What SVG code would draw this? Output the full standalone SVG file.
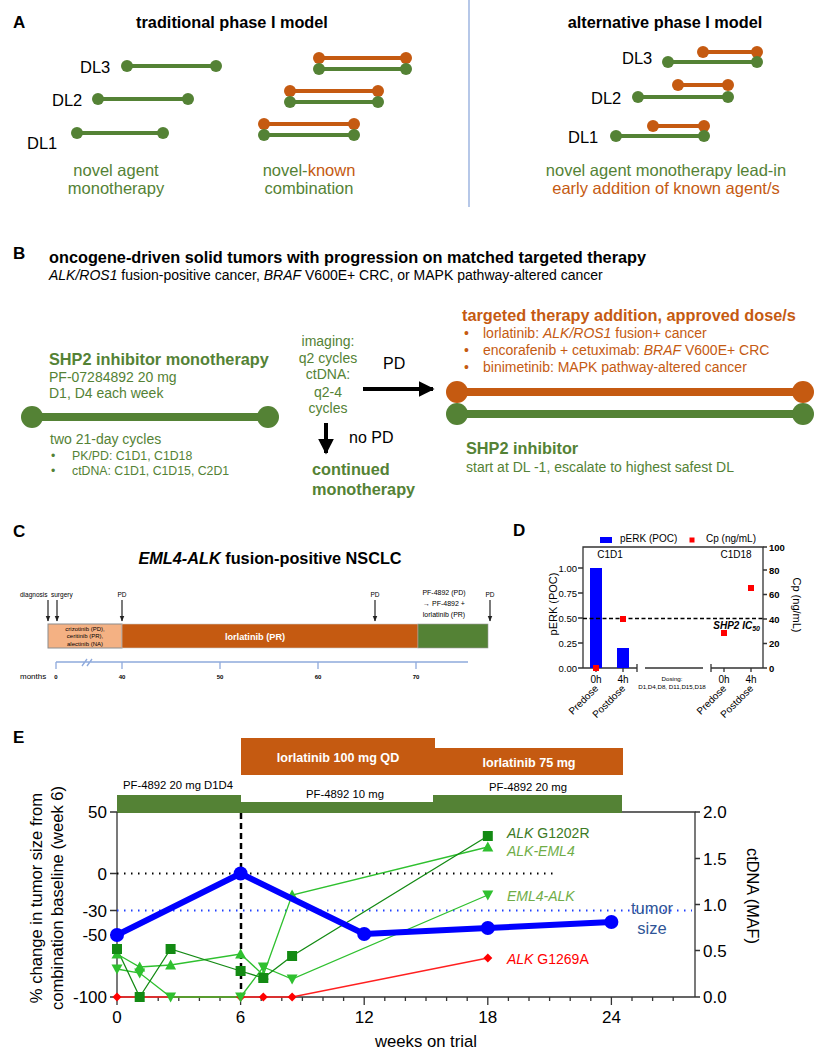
<svg xmlns="http://www.w3.org/2000/svg" width="814" height="1050" viewBox="0 0 814 1050">
<style>
text{font-family:"Liberation Sans",Arial,sans-serif;fill:#000}
.lbl{font-size:17px;font-weight:bold}
.ttl{font-size:16.3px;font-weight:bold}
text.g,.g{fill:#548235}
text.o,.o{fill:#c55a11}
.gs{stroke:#548235}
.os{stroke:#c55a11}
.ln4{stroke-width:4;fill:none}
.ln8{stroke-width:8;fill:none}
.t14{font-size:14px}
.t16{font-size:16.5px}
.it{font-style:italic}
.ax{stroke:#333;stroke-width:1.3;fill:none}
.cax{stroke:#8faadc;stroke-width:1.3;fill:none}
.dk{fill:#138a13}
.lt{fill:#2fc02f}
text.rd,.rd{fill:#ff0000}
</style>
<defs>
<marker id="ah" viewBox="0 0 10 10" refX="9" refY="5" markerWidth="4" markerHeight="4" orient="auto"><path d="M0,0 L10,5 L0,10 z" fill="#000"/></marker>
<marker id="ahs" viewBox="0 0 10 10" refX="9" refY="5" markerWidth="5" markerHeight="5" orient="auto"><path d="M0,1 L10,5 L0,9 z" fill="#222"/></marker>
<rect id="sq" x="-5" y="-5" width="10" height="10"/>
<polygon id="tu" points="0,-5.5 5.5,4.5 -5.5,4.5"/>
<polygon id="td" points="-5.5,-4.5 5.5,-4.5 0,5.5"/>
<polygon id="dm" points="0,-4.5 4.5,0 0,4.5 -4.5,0"/>
<rect id="rs" x="-3" y="-3" width="6" height="6"/>
</defs>

<!-- Panel A -->
<g id="panelA">
<text x="13" y="28" class="lbl">A</text>
<text x="232" y="28" class="ttl" text-anchor="middle">traditional phase I model</text>
<text x="665" y="28" class="ttl" text-anchor="middle">alternative phase I model</text>
<line x1="469" y1="0" x2="469" y2="207" stroke="#8faadc" stroke-width="1.3"/>
<g id="a-trad-mono">
<text x="80" y="73" class="t16">DL3</text>
<text x="52" y="106" class="t16">DL2</text>
<text x="27" y="149" class="t16">DL1</text>
<g class="gs ln4"><line x1="127" y1="66" x2="216" y2="66"/><line x1="98" y1="99" x2="188" y2="99"/><line x1="77" y1="133" x2="163" y2="133"/></g>
<g class="g"><circle cx="127" cy="66" r="6"/><circle cx="216" cy="66" r="6"/><circle cx="98" cy="99" r="6"/><circle cx="188" cy="99" r="6"/><circle cx="77" cy="133" r="6"/><circle cx="163" cy="133" r="6"/></g>
<text x="116" y="176" class="t16 g" text-anchor="middle" font-size="17">novel agent</text>
<text x="116" y="194" class="t16 g" text-anchor="middle">monotherapy</text>
</g>
<g id="a-trad-combo">
<g class="os ln4"><line x1="319" y1="58" x2="406" y2="58"/><line x1="290" y1="91" x2="378" y2="91"/><line x1="264" y1="124" x2="354" y2="124"/></g>
<g class="gs ln4"><line x1="319" y1="69" x2="406" y2="69"/><line x1="290" y1="102" x2="378" y2="102"/><line x1="264" y1="135" x2="354" y2="135"/></g>
<g class="o"><circle cx="319" cy="58" r="6"/><circle cx="406" cy="58" r="6"/><circle cx="290" cy="91" r="6"/><circle cx="378" cy="91" r="6"/><circle cx="264" cy="124" r="6"/><circle cx="354" cy="124" r="6"/></g>
<g class="g"><circle cx="319" cy="69" r="6"/><circle cx="406" cy="69" r="6"/><circle cx="290" cy="102" r="6"/><circle cx="378" cy="102" r="6"/><circle cx="264" cy="135" r="6"/><circle cx="354" cy="135" r="6"/></g>
<text x="309" y="176" class="t16 g" text-anchor="middle">novel-<tspan class="o">known</tspan></text>
<text x="309" y="194" class="t16 g" text-anchor="middle">combination</text>
</g>
<g id="a-alt">
<text x="622" y="64" class="t16">DL3</text>
<text x="591" y="104" class="t16">DL2</text>
<text x="568" y="143" class="t16">DL1</text>
<g class="os ln4"><line x1="703" y1="52" x2="757" y2="52"/><line x1="678" y1="85" x2="728" y2="85"/><line x1="653" y1="126" x2="704" y2="126"/></g>
<g class="gs ln4"><line x1="668" y1="62" x2="757" y2="62"/><line x1="638" y1="97" x2="728" y2="97"/><line x1="616" y1="136" x2="704" y2="136"/></g>
<g class="o"><circle cx="703" cy="52" r="6"/><circle cx="757" cy="52" r="6"/><circle cx="678" cy="85" r="6"/><circle cx="728" cy="85" r="6"/><circle cx="653" cy="126" r="6"/><circle cx="704" cy="126" r="6"/></g>
<g class="g"><circle cx="668" cy="62" r="6"/><circle cx="757" cy="62" r="6"/><circle cx="638" cy="97" r="6"/><circle cx="728" cy="97" r="6"/><circle cx="616" cy="136" r="6"/><circle cx="704" cy="136" r="6"/></g>
<text x="666" y="176" class="t16 g" text-anchor="middle">novel agent monotherapy lead-in</text>
<text x="666" y="194" class="t16 o" text-anchor="middle">early addition of known agent/s</text>
</g>
</g>

<!-- Panel B -->
<g id="panelB">
<text x="13" y="259" class="lbl">B</text>
<text x="49" y="263" class="ttl">oncogene-driven solid tumors with progression on matched targeted therapy</text>
<text x="49" y="280" class="t14"><tspan class="it">ALK/ROS1</tspan> fusion-positive cancer, <tspan class="it">BRAF</tspan> V600E+ CRC, or MAPK pathway-altered cancer</text>
<g id="b-mono">
<text x="49" y="365" class="ttl g">SHP2 inhibitor monotherapy</text>
<text x="49" y="382" class="t14 g">PF-07284892 20 mg</text>
<text x="49" y="398" class="t14 g">D1, D4 each week</text>
<line x1="32" y1="417" x2="268" y2="417" class="gs ln8"/>
<circle cx="32" cy="417" r="11" class="g"/><circle cx="268" cy="417" r="11" class="g"/>
<text x="50" y="444" class="t14 g">two 21-day cycles</text>
<text x="51" y="459.5" font-size="12.3" class="g">•</text>
<text x="72" y="459.5" font-size="12.3" class="g">PK/PD: C1D1, C1D18</text>
<text x="51" y="474.5" font-size="12.3" class="g">•</text>
<text x="72" y="474.5" font-size="12.3" class="g">ctDNA: C1D1, C1D15, C2D1</text>
</g>
<g id="b-monitor" text-anchor="middle">
<text x="328" y="346" class="t14 g">imaging:</text>
<text x="328" y="363" class="t14 g">q2 cycles</text>
<text x="328" y="379" class="t14 g">ctDNA:</text>
<text x="328" y="397" class="t14 g">q2-4</text>
<text x="328" y="413" class="t14 g">cycles</text>
</g>
<text x="383" y="369" font-size="16">PD</text>
<text x="349" y="443" font-size="16">no PD</text>
<g id="b-continued">
<text x="312" y="475" class="ttl g">continued</text>
<text x="312" y="495" class="ttl g">monotherapy</text>
</g>
<g id="b-combo">
<text x="462" y="321" class="ttl o">targeted therapy addition, approved dose/s</text>
<text x="464" y="338" class="t14 o">•</text><text x="483" y="338" class="t14 o">lorlatinib: <tspan class="it">ALK/ROS1</tspan> fusion+ cancer</text>
<text x="464" y="355" class="t14 o">•</text><text x="483" y="355" class="t14 o">encorafenib + cetuximab: <tspan class="it">BRAF</tspan> V600E+ CRC</text>
<text x="464" y="372" class="t14 o">•</text><text x="483" y="372" class="t14 o">binimetinib: MAPK pathway-altered cancer</text>
<line x1="457" y1="392" x2="803" y2="392" class="os ln8"/>
<circle cx="457" cy="392" r="11" class="o"/><circle cx="803" cy="392" r="11" class="o"/>
<line x1="457" y1="414" x2="803" y2="414" class="gs ln8"/>
<circle cx="457" cy="414" r="11" class="g"/><circle cx="803" cy="414" r="11" class="g"/>
<text x="466" y="454" class="ttl g">SHP2 inhibitor</text>
<text x="466" y="472" class="t14 g">start at DL -1, escalate to highest safest DL</text>
</g>
</g>

<!-- Connectors -->
<g id="connectors">
<line x1="363" y1="389" x2="433" y2="389" stroke="#000" stroke-width="4" marker-end="url(#ah)"/>
<line x1="326" y1="423" x2="326" y2="453" stroke="#000" stroke-width="4" marker-end="url(#ah)"/>
<g stroke="#222" stroke-width="1.2" marker-end="url(#ahs)">
<line x1="48" y1="600" x2="48" y2="621"/>
<line x1="57" y1="600" x2="57" y2="621"/>
<line x1="122" y1="600" x2="122" y2="621"/>
<line x1="375" y1="600" x2="375" y2="621"/>
<line x1="490" y1="600" x2="490" y2="621"/>
</g>
</g>

<!-- Panel C -->
<g id="panelC">
<text x="13" y="537" class="lbl">C</text>
<text x="270" y="564" class="ttl" text-anchor="middle"><tspan class="it">EML4-ALK</tspan> fusion-positive NSCLC</text>
<g font-size="6.5">
<text x="20" y="597">diagnosis</text>
<text x="51" y="597">surgery</text>
<text x="122" y="597" text-anchor="middle">PD</text>
<text x="375" y="597" text-anchor="middle">PD</text>
<text x="490" y="597" text-anchor="middle">PD</text>
</g>
<g font-size="7" text-anchor="middle">
<text x="444" y="595">PF-4892 (PD)</text>
<text x="444" y="606">→ PF-4892 +</text>
<text x="444" y="617">lorlatinib (PR)</text>
</g>
<rect x="48" y="624" width="74" height="24" fill="#f4b183" stroke="#8c8c8c" stroke-width="1"/>
<rect x="122" y="624" width="296" height="24" fill="#c55a11" stroke="#c9c9c9" stroke-width="0.6"/>
<rect x="418" y="624" width="70" height="24" fill="#548235" stroke="#9a9a9a" stroke-width="0.6"/>
<g font-size="6" text-anchor="middle">
<text x="85" y="630.5">crizotinib (PD),</text>
<text x="85" y="638">ceritinib (PR),</text>
<text x="85" y="645.5">alectinib (NA)</text>
</g>
<text x="255" y="639.5" font-size="9.2" font-weight="bold" text-anchor="middle" style="fill:#fff">lorlatinib (PR)</text>
<path d="M56,662 H468 M56,662 V669 M122,662 V669 M220,662 V669 M318,662 V669 M416,662 V669 M82,666 L87,659 M87,666 L92,659" class="cax"/>
<g font-size="6" font-weight="bold" text-anchor="middle">
<text x="56" y="678.5">0</text>
<text x="122" y="678.5">40</text>
<text x="220" y="678.5">50</text>
<text x="318" y="678.5">60</text>
<text x="416" y="678.5">70</text>
</g>
<text x="20" y="679" font-size="8">months</text>
</g>

<!-- Panel D -->
<g id="panelD">
<text x="513" y="536" class="lbl">D</text>
<rect x="600" y="537" width="12" height="6" fill="#0000ff"/>
<text x="620" y="542" font-size="10">pERK (POC)</text>
<rect x="689.5" y="537.5" width="5" height="5" fill="#ff0000"/>
<text x="706" y="542" font-size="10">Cp (ng/mL)</text>
<path d="M583,668 V547 H763 V668" class="ax"/>
<path d="M583,668 H637 M637,664 V672 M645,668 H703 M711,664 V672 M711,668 H763" class="ax"/>
<path d="M578,668 H583 M578,643 H583 M578,618 H583 M578,593 H583 M578,568 H583 M763,668 H767 M763,643.5 H767 M763,619 H767 M763,594.5 H767 M763,570 H767 M763,547 H767 M596,668 V672 M623,668 V672 M724,668 V672 M751,668 V672" class="ax"/>
<g font-size="9.5" text-anchor="end">
<text x="577" y="671.5">0.00</text>
<text x="577" y="646.5">0.25</text>
<text x="577" y="621.5">0.50</text>
<text x="577" y="596.5">0.75</text>
<text x="577" y="571.5">1.00</text>
</g>
<g font-size="9.5" font-weight="bold">
<text x="769" y="671.5">0</text>
<text x="769" y="647">20</text>
<text x="769" y="622.5">40</text>
<text x="769" y="598">60</text>
<text x="769" y="573.5">80</text>
<text x="769" y="550.5">100</text>
</g>
<text x="610" y="558" font-size="10" text-anchor="middle">C1D1</text>
<text x="736" y="558" font-size="10" text-anchor="middle">C1D18</text>
<rect x="590" y="568" width="12" height="100" fill="#0000ff"/>
<rect x="617" y="648" width="12" height="20" fill="#0000ff"/>
<line x1="583" y1="618.5" x2="763" y2="618.5" stroke="#000" stroke-width="1.4" stroke-dasharray="4 2.5"/>
<text x="760" y="628.5" font-size="10" font-weight="bold" font-style="italic" text-anchor="end">SHP2 IC<tspan font-size="7" dy="2.5">50</tspan></text>
<g class="rd"><use href="#rs" x="596" y="668"/><use href="#rs" x="623" y="619"/><use href="#rs" x="724" y="633"/><use href="#rs" x="751" y="588"/></g>
<g font-size="10" text-anchor="middle">
<text x="596" y="683">0h</text><text x="623" y="683">4h</text>
<text x="724" y="683">0h</text><text x="751" y="683">4h</text>
</g>
<g font-size="10" text-anchor="end">
<text x="599" y="689" transform="rotate(-45 599 689)">Predose</text>
<text x="626" y="689" transform="rotate(-45 626 689)">Postdose</text>
<text x="727" y="689" transform="rotate(-45 727 689)">Predose</text>
<text x="754" y="689" transform="rotate(-45 754 689)">Postdose</text>
</g>
<text x="672" y="681" font-size="6.2" text-anchor="middle">Dosing:</text>
<text x="672" y="689" font-size="6.2" text-anchor="middle">D1,D4,D8, D11,D15,D18</text>
<text x="557" y="604" font-size="11" text-anchor="middle" transform="rotate(-90 557 604)">pERK (POC)</text>
<text x="793" y="605" font-size="11" text-anchor="middle" transform="rotate(90 793 605)">Cp (ng/mL)</text>
</g>

<!-- Panel E -->
<g id="panelE">
<text x="13" y="743" class="lbl">E</text>
<g id="e-lorlatinib">
<rect x="241" y="738" width="194" height="37" fill="#c55a11"/>
<rect x="435" y="748" width="188" height="27" fill="#c55a11"/>
<text x="338" y="761.5" font-size="12.6" font-weight="bold" text-anchor="middle" style="fill:#fff">lorlatinib 100 mg QD</text>
<text x="529" y="767" font-size="12.6" font-weight="bold" text-anchor="middle" style="fill:#fff">lorlatinib 75 mg</text>
</g>
<g id="e-pf4892">
<rect x="117" y="795" width="124" height="18" fill="#548235"/>
<rect x="241" y="802" width="192" height="11" fill="#548235"/>
<rect x="433" y="795" width="189" height="18" fill="#548235"/>
<g font-size="11.3" text-anchor="middle">
<text x="178" y="789">PF-4892 20 mg D1D4</text>
<text x="345" y="798">PF-4892 10 mg</text>
<text x="528" y="791">PF-4892 20 mg</text>
</g>
</g>
<path d="M622,812 H695 V997 M117,812 V997 H695" class="ax"/>
<path d="M110,812 H117 M110,873.5 H117 M110,910.5 H117 M110,935 H117 M110,997 H117 M695,812 H700 M695,858.5 H700 M695,904.5 H700 M695,950.5 H700 M695,997 H700" class="ax"/>
<path d="M117,997 V1005 M240.6,997 V1005 M364.2,997 V1005 M487.8,997 V1005 M611.4,997 V1005 M137.6,997 V1001 M158.2,997 V1001 M178.8,997 V1001 M199.4,997 V1001 M220,997 V1001 M261.2,997 V1001 M281.8,997 V1001 M302.4,997 V1001 M323,997 V1001 M343.6,997 V1001 M384.8,997 V1001 M405.4,997 V1001 M426,997 V1001 M446.6,997 V1001 M467.2,997 V1001 M508.4,997 V1001 M529,997 V1001 M549.6,997 V1001 M570.2,997 V1001 M590.8,997 V1001 M632,997 V1001 M652.6,997 V1001 M673.2,997 V1001" class="ax"/>
<g font-size="17" text-anchor="end">
<text x="107" y="818">50</text>
<text x="107" y="879.5">0</text>
<text x="107" y="916.5">-30</text>
<text x="107" y="941">-50</text>
<text x="107" y="1003">-100</text>
</g>
<g font-size="17">
<text x="703" y="818">2.0</text>
<text x="703" y="864.5">1.5</text>
<text x="703" y="910.5">1.0</text>
<text x="703" y="956.5">0.5</text>
<text x="703" y="1003">0.0</text>
</g>
<g font-size="17" text-anchor="middle">
<text x="117" y="1023">0</text>
<text x="240.6" y="1023">6</text>
<text x="364.2" y="1023">12</text>
<text x="487.8" y="1023">18</text>
<text x="611.4" y="1023">24</text>
</g>
<text x="426" y="1047" font-size="16.7" text-anchor="middle">weeks on trial</text>
<text x="42" y="898" font-size="16.6" text-anchor="middle" transform="rotate(-90 42 898)">% change in tumor size from</text>
<text x="63" y="898" font-size="16.6" text-anchor="middle" transform="rotate(-90 63 898)">combination baseline (week 6)</text>
<text x="747" y="896" font-size="16.3" text-anchor="middle" transform="rotate(90 747 896)">ctDNA (MAF)</text>
<line x1="117" y1="873.5" x2="553" y2="873.5" stroke="#000" stroke-width="2" stroke-dasharray="1.5 5.5"/>
<line x1="117" y1="910.5" x2="692" y2="910.5" stroke="#1f3fff" stroke-width="2" stroke-dasharray="1.5 5.5"/>
<line x1="241" y1="813" x2="241" y2="997" stroke="#000" stroke-width="2.5" stroke-dasharray="6 4"/>
<g id="e-ctdna" fill="none" stroke-width="1.3">
<polyline points="117,997 240.6,997 263.3,997 292.1,997 487.8,958" stroke="#ff2020"/>
<polyline points="117,969 139.7,973 170.6,997 240.6,997 263.3,967 292.1,979 487.8,895" stroke="#2fc02f"/>
<polyline points="117,954 139.7,967 170.6,965 240.6,954 263.3,975 292.1,895 487.8,847" stroke="#2fc02f"/>
<polyline points="117,949 139.7,997 170.6,949 240.6,971 263.3,978 292.1,956 487.8,836" stroke="#138a13"/>
</g>
<g class="rd"><use href="#dm" x="117" y="997"/><use href="#dm" x="240.6" y="997"/><use href="#dm" x="263.3" y="997"/><use href="#dm" x="292.1" y="997"/><use href="#dm" x="487.8" y="958"/></g>
<g class="lt"><use href="#td" x="117" y="969"/><use href="#td" x="139.7" y="973"/><use href="#td" x="170.6" y="997"/><use href="#td" x="240.6" y="997"/><use href="#td" x="263.3" y="967"/><use href="#td" x="292.1" y="979"/><use href="#td" x="487.8" y="895"/></g>
<g class="lt"><use href="#tu" x="117" y="954"/><use href="#tu" x="139.7" y="967"/><use href="#tu" x="170.6" y="965"/><use href="#tu" x="240.6" y="954"/><use href="#tu" x="263.3" y="975"/><use href="#tu" x="292.1" y="895"/><use href="#tu" x="487.8" y="847"/></g>
<g class="dk"><use href="#sq" x="117" y="949"/><use href="#sq" x="139.7" y="997"/><use href="#sq" x="170.6" y="949"/><use href="#sq" x="240.6" y="971"/><use href="#sq" x="263.3" y="978"/><use href="#sq" x="292.1" y="956"/><use href="#sq" x="487.8" y="836"/></g>
<g id="e-tumor">
<polyline points="117,935 240.6,873.5 364.2,934 487.8,928 611.4,922" fill="none" stroke="#0000ff" stroke-width="6" stroke-linejoin="round"/>
<g fill="#0000ff"><circle cx="117" cy="935" r="7"/><circle cx="240.6" cy="873.5" r="7"/><circle cx="364.2" cy="934" r="7"/><circle cx="487.8" cy="928" r="7"/><circle cx="611.4" cy="922" r="7"/></g>
</g>
<g font-size="14">
<text x="507" y="838" style="fill:#3b7a25"><tspan class="it">ALK</tspan> G1202R</text>
<text x="507" y="856" class="it" style="fill:#70ad47">ALK-EML4</text>
<text x="507" y="901" class="it" style="fill:#70ad47">EML4-ALK</text>
<text x="507" y="964" class="rd"><tspan class="it">ALK</tspan> G1269A</text>
</g>
<text x="652" y="914" font-size="16.5" text-anchor="middle" style="fill:#2f5597">tumor</text>
<text x="652" y="934" font-size="16.5" text-anchor="middle" style="fill:#2f5597">size</text>
</g>
</svg>
